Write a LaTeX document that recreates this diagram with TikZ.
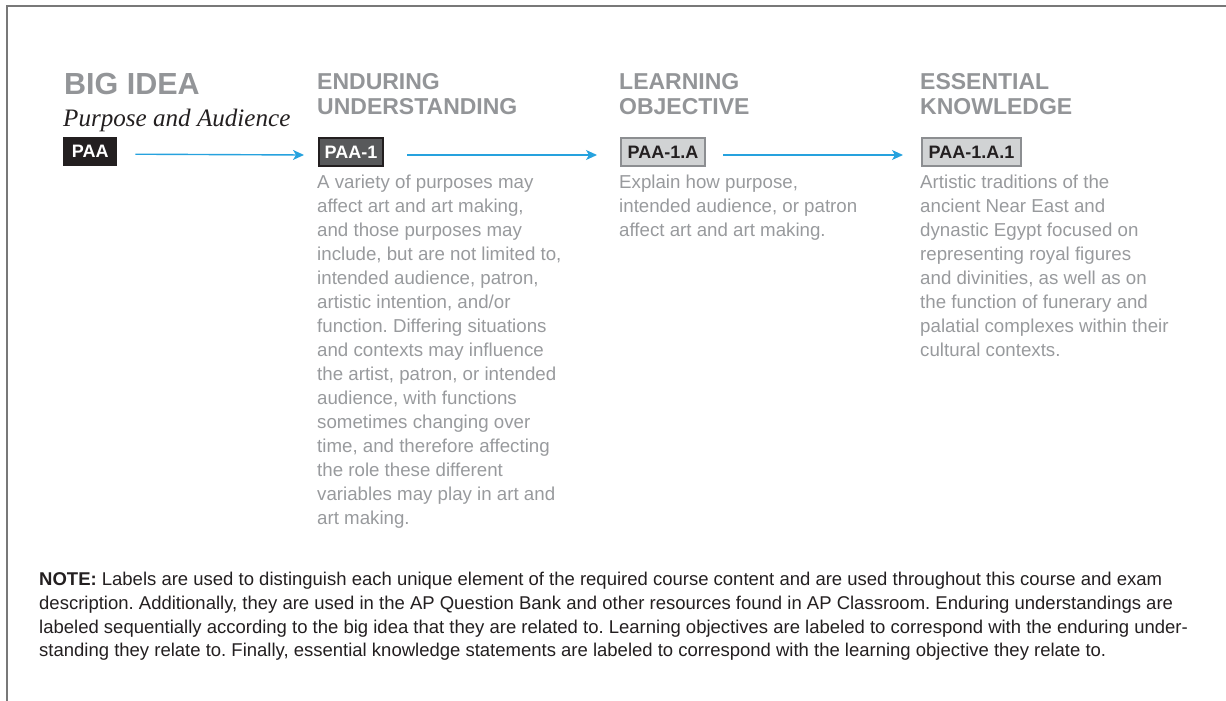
\documentclass[tikz,border=0pt]{standalone}
\usepackage{fontspec}
\setmainfont{Liberation Sans}
\newfontfamily\serifit{Liberation Serif}
\usetikzlibrary{arrows.meta}
\definecolor{headgray}{RGB}{147,149,152}
\definecolor{bodygray}{RGB}{152,154,157}
\definecolor{inkblack}{RGB}{35,31,32}
\definecolor{darkbox}{RGB}{88,89,91}
\definecolor{lightbox}{RGB}{209,211,212}
\definecolor{boxline}{RGB}{140,142,145}
\definecolor{flowblue}{RGB}{38,162,222}
\definecolor{framegray}{RGB}{120,120,120}
\tikzset{
  x=1pt, y=-1pt,
  heading/.style={anchor=north west, inner sep=0pt, align=left, text=headgray,
    font=\fontsize{23}{25}\selectfont\bfseries},
  bodytext/.style={anchor=north west, inner sep=0pt, align=left, text=bodygray,
    font=\fontsize{18.7}{24}\selectfont},
  labelbox/.style={anchor=north west, inner sep=0pt,
    font=\fontsize{18}{20}\selectfont\bfseries},
  flow/.style={draw=flowblue, line width=1.4pt,
    -{Stealth[length=11pt,width=10pt,inset=3pt]}},
  notetext/.style={anchor=north west, inner sep=0pt, align=left, text=inkblack,
    font=\fontsize{18.5}{23.6}\selectfont}
}
\begin{document}
\frenchspacing
\begin{tikzpicture}
\useasboundingbox (0,0) rectangle (1226,701);
% frame
\draw[framegray, line width=1.3pt] (7,701) -- (7,6) -- (1226,6);

% Big idea column
\node[anchor=base west, inner sep=0pt, text=headgray,
  font=\fontsize{30.5}{32}\selectfont\bfseries] (bigidea) at (64,94.3) {BIG IDEA};
\node[anchor=base west, inner sep=0pt, text=inkblack,
  font=\serifit\itshape\fontsize{25.1}{27}\selectfont] (bigname) at (63,126.7) {Purpose and Audience};
\node[labelbox, fill=inkblack, text=white, minimum width=54pt, minimum height=29pt] (paa) at (63,136.5) {PAA};

% headings
\node[heading] (euh) at (317,71.8) {\strut ENDURING\\UNDERSTANDING};
\node[heading] (loh) at (619,71.8) {\strut LEARNING\\OBJECTIVE};
\node[heading] (ekh) at (920,71.8) {\strut ESSENTIAL\\KNOWLEDGE};

% label boxes
\node[labelbox, fill=darkbox, draw=inkblack, line width=2pt, text=white,
  minimum width=64pt, minimum height=28pt] (paa1) at (318,137) {PAA-1};
\node[labelbox, fill=lightbox, draw=boxline, line width=2pt, text=inkblack,
  minimum width=84pt, minimum height=28pt] (paa1a) at (620,137) {PAA-1.A};
\node[labelbox, fill=lightbox, draw=boxline, line width=2pt, text=inkblack,
  minimum width=99pt, minimum height=28pt] (paa1a1) at (921,137) {PAA-1.A.1};

% body texts
\node[bodytext] (eutext) at (317,171.3) {\strut A variety of purposes may\\
affect art and art making,\\
and those purposes may\\
include, but are not limited to,\\
intended audience, patron,\\
artistic intention, and/or\\
function. Differing situations\\
and contexts may influence\\
the artist, patron, or intended\\
audience, with functions\\
sometimes changing over\\
time, and therefore affecting\\
the role these different\\
variables may play in art and\\
art making.};
\node[bodytext] (lotext) at (619,171.3) {\strut Explain how purpose,\\
intended audience, or patron\\
affect art and art making.};
\node[bodytext] (ektext) at (920,171.3) {\strut Artistic traditions of the\\
ancient Near East and\\
dynastic Egypt focused on\\
representing royal figures\\
and divinities, as well as on\\
the function of funerary and\\
palatial complexes within their\\
cultural contexts.};

% connectors
\draw[flow] ([xshift=18pt,yshift=-3pt]paa.east) -- ([xshift=-14pt,yshift=-3pt]paa1.west);
\draw[flow] ([xshift=23pt,yshift=-3pt]paa1.east) -- ([xshift=-23pt,yshift=-3pt]paa1a.west);
\draw[flow] ([xshift=17pt,yshift=-3pt]paa1a.east) -- ([xshift=-18pt,yshift=-3pt]paa1a1.west);

% note
\node[notetext] (note) at (39,569.2) {\strut\textbf{NOTE:} Labels are used to distinguish each unique element of the required course content and are used throughout this course and exam\\
description. Additionally, they are used in the AP Question Bank and other resources found in AP Classroom. Enduring understandings are\\
labeled sequentially according to the big idea that they are related to. Learning objectives are labeled to correspond with the enduring under-\\
standing they relate to. Finally, essential knowledge statements are labeled to correspond with the learning objective they relate to.};
\end{tikzpicture}
\end{document}
